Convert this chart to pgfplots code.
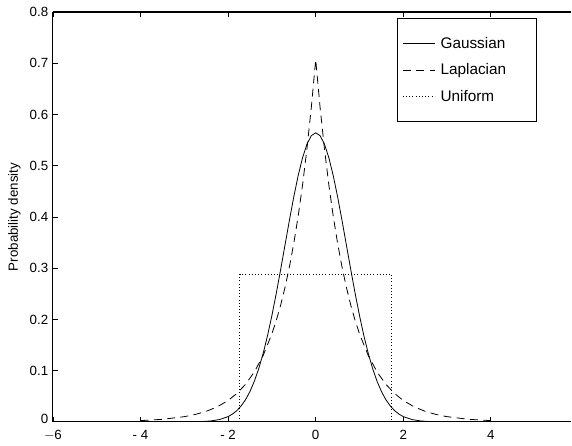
\documentclass[border=0pt]{standalone}
\usepackage{pgfplots}
\pgfplotsset{compat=1.18}
\usepackage{fontspec}
\setmainfont{Liberation Sans}

\begin{document}
\begin{tikzpicture}
\begin{axis}[
  scale only axis,
  width=389pt, height=307.5pt,
  xmin=-6, xmax=5.84, ymin=0, ymax=0.8,
  xtick={-6,-4,-2,0,2,4,6}, ytick={0,0.1,0.2,0.3,0.4,0.5,0.6,0.7,0.8},
  xticklabels={$-$6,- 4,- 2,0,2,4,6},
  yticklabels={\raisebox{4pt}{0},0.1,0.2,0.3,0.4,0.5,0.6,0.7,0.8},
  axis x line*=box, axis y line*=left,
  axis line style={line width=0.8pt},
  tick style={black, line width=0.6pt},
  major tick length=3.5pt,
  tick align=inside,
  xticklabel style={yshift=-3pt},
  ylabel={Probability density},
  tick label style={font=\normalsize},
  legend style={at={(0.663,0.985)}, anchor=north west, draw=black, line width=0.6pt,
    inner xsep=4pt, inner ysep=12pt, row sep=6pt, font=\fontsize{11.5}{13}\selectfont},
  legend cell align=left,
  legend image code/.code={\draw[#1] (0pt,0pt) -- (24pt,0pt);},
]
% Gaussian
\addplot[black, line width=0.6pt] coordinates {
(-4,0) (-3,0.0001) (-2.8,0.0002) (-2.6,0.0007) (-2.4,0.0018) (-2.2,0.0045) (-2.0,0.0103)
(-1.9,0.0153) (-1.8,0.0221) (-1.7,0.0314) (-1.6,0.0436) (-1.5,0.0595) (-1.4,0.0795)
(-1.3,0.1041) (-1.2,0.1337) (-1.1,0.1682) (-1.0,0.2076) (-0.9,0.2510) (-0.8,0.2975)
(-0.7,0.3456) (-0.6,0.3936) (-0.5,0.4394) (-0.4,0.4808) (-0.3,0.5156) (-0.2,0.5421)
(-0.1,0.5586) (0,0.5642) (0.1,0.5586) (0.2,0.5421) (0.3,0.5156) (0.4,0.4808)
(0.5,0.4394) (0.6,0.3936) (0.7,0.3456) (0.8,0.2975) (0.9,0.2510) (1.0,0.2076)
(1.1,0.1682) (1.2,0.1337) (1.3,0.1041) (1.4,0.0795) (1.5,0.0595) (1.6,0.0436)
(1.7,0.0314) (1.8,0.0221) (1.9,0.0153) (2.0,0.0103) (2.2,0.0045) (2.4,0.0018)
(2.6,0.0007) (2.8,0.0002) (3.0,0.0001) (4,0)
};
\addlegendentry{\hspace{2pt}\makebox[66pt][l]{Gaussian}}
% Laplacian
\addplot[black, line width=0.6pt, dash pattern=on 6pt off 4pt] coordinates {
(-4.0,0.0025) (-3.5,0.0050) (-3.0,0.0102) (-2.75,0.0145) (-2.5,0.0206) (-2.25,0.0293)
(-2.0,0.0418) (-1.8,0.0555) (-1.6,0.0736) (-1.4,0.0976) (-1.2,0.1296) (-1.0,0.1719)
(-0.9,0.1980) (-0.8,0.2281) (-0.7,0.2628) (-0.6,0.3027) (-0.5,0.3487) (-0.4,0.4016)
(-0.3,0.4626) (-0.2,0.5329) (-0.1,0.6139) (0,0.7071) (0.1,0.6139) (0.2,0.5329)
(0.3,0.4626) (0.4,0.4016) (0.5,0.3487) (0.6,0.3027) (0.7,0.2628) (0.8,0.2281)
(0.9,0.1980) (1.0,0.1719) (1.2,0.1296) (1.4,0.0976) (1.6,0.0736) (1.8,0.0555)
(2.0,0.0418) (2.25,0.0293) (2.5,0.0206) (2.75,0.0145) (3.0,0.0102) (3.5,0.0050)
(4.0,0.0025)
};
\addlegendentry{\hspace{2pt}Laplacian}
% Uniform
\addplot[black, line width=0.6pt, dash pattern=on 0.6pt off 1.8pt] coordinates {
(-1.732,0) (-1.732,0.2887) (1.732,0.2887) (1.732,0)
};
\addlegendentry{\hspace{2pt}Uniform}
\end{axis}
\path (current axis.south west) ++(-39.7pt,-15.7pt) coordinate (bl);
\path (current axis.north east) ++(0pt,9pt) coordinate (tr);
\path (bl) rectangle (tr);
\end{tikzpicture}
\end{document}
